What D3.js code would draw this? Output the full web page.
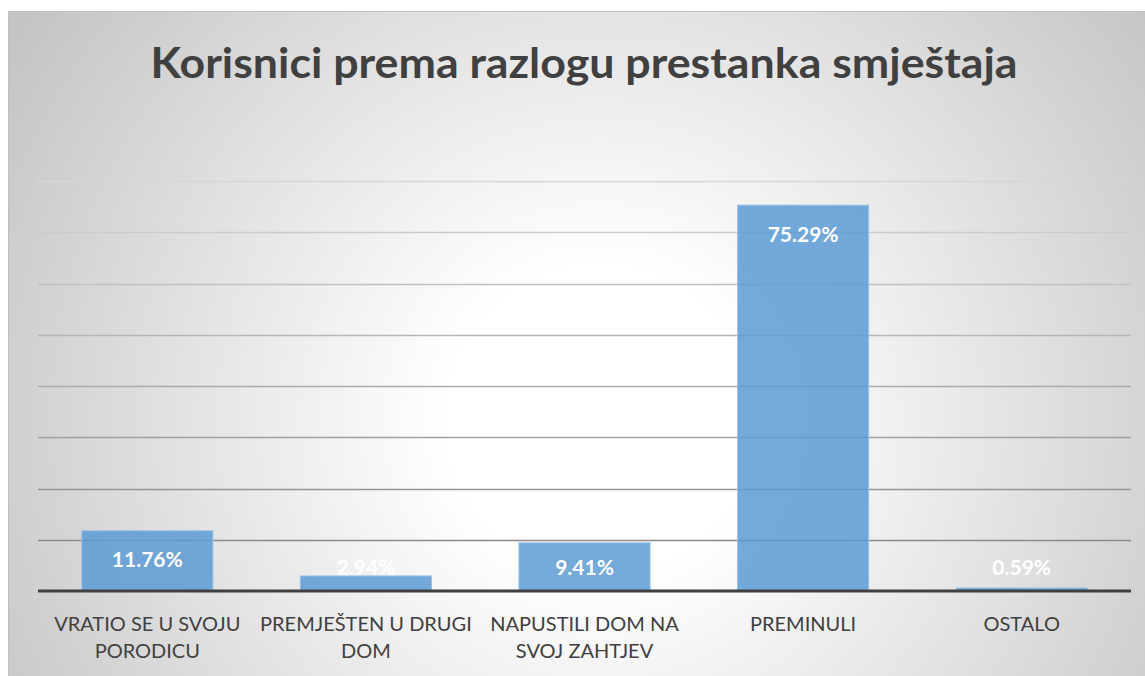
<!DOCTYPE html>
<html>
<head>
<meta charset="utf-8">
<script src="https://cdn.jsdelivr.net/npm/d3@7"></script>
<style>
  body { margin: 0; background: #fff; }
  svg { display: block; }
  text { font-family: Lato, "Open Sans", sans-serif; }
</style>
</head>
<body>
<script>
const title = 'Korisnici prema razlogu prestanka smještaja'
const categories = ['VRATIO SE U SVOJU PORODICU', 'PREMJEŠTEN U DRUGI DOM', 'NAPUSTILI DOM NA SVOJ ZAHTJEV', 'PREMINULI', 'OSTALO']
const values = [11.76, 2.94, 9.41, 75.29, 0.59]
const yTicks = [0, 10, 20, 30, 40, 50, 60, 70, 80]

const width = 1145
const height = 676
const plot = { left: 38, right: 1131, top: 181, bottom: 591 }

const svg = d3.select('body').append('svg')
  .attr('width', width)
  .attr('height', height)

const defs = svg.append('defs')

const bg = defs.append('radialGradient')
  .attr('id', 'bg')
  .attr('gradientUnits', 'userSpaceOnUse')
  .attr('cx', 600).attr('cy', 420).attr('r', 700)
bg.append('stop').attr('offset', '0%').attr('stop-color', '#ffffff')
bg.append('stop').attr('offset', '22%').attr('stop-color', '#ffffff')
bg.append('stop').attr('offset', '100%').attr('stop-color', '#c4c4c4')

// gridlines get darker towards the axis
const gridGrad = defs.append('linearGradient')
  .attr('id', 'grid')
  .attr('gradientUnits', 'userSpaceOnUse')
  .attr('x1', 0).attr('x2', 0)
  .attr('y1', plot.top).attr('y2', plot.bottom)
gridGrad.append('stop').attr('offset', '0%').attr('stop-color', '#d6d6d6')
gridGrad.append('stop').attr('offset', '100%').attr('stop-color', '#808080')

svg.append('rect')
  .attr('x', 8.5).attr('y', 11.5)
  .attr('width', width).attr('height', height)
  .style('fill', 'url(#bg)')
  .style('stroke', '#bfbfbf')

const x = d3.scaleBand()
  .domain(categories)
  .range([plot.left, plot.right])
  .paddingInner(0.4)
  .paddingOuter(0.2)

const y = d3.scaleLinear()
  .domain([0, 80])
  .range([plot.bottom, plot.top])

svg.append('text')
  .attr('x', 584)
  .attr('y', 78)
  .attr('text-anchor', 'middle')
  .attr('textLength', 867)
  .attr('lengthAdjust', 'spacingAndGlyphs')
  .style('font-size', '42px')
  .style('font-weight', 700)
  .style('fill', '#404040')
  .text(title)

const grid = svg.append('g')
grid.selectAll('line')
  .data(yTicks.filter(d => d > 0))
  .enter()
  .append('line')
  .attr('x1', plot.left)
  .attr('x2', plot.right)
  .attr('y1', d => Math.round(y(d)) + 0.5)
  .attr('y2', d => Math.round(y(d)) + 0.5)
  .style('stroke', 'url(#grid)')
  .style('stroke-width', 1.3)

svg.append('g').selectAll('rect')
  .data(values)
  .enter()
  .append('rect')
  .attr('x', (d, i) => x(categories[i]))
  .attr('y', d => y(d))
  .attr('width', x.bandwidth())
  .attr('height', d => y(0) - y(d))
  .style('fill', '#5b9bd5')
  .style('fill-opacity', 0.85)
  .style('stroke', '#9dc3e6')
  .style('stroke-width', 1)

svg.append('line')
  .attr('x1', plot.left)
  .attr('x2', plot.right)
  .attr('y1', plot.bottom)
  .attr('y2', plot.bottom)
  .style('stroke', '#404040')
  .style('stroke-width', 3)

// value labels, inside end, kept off the axis
svg.append('g').selectAll('text')
  .data(values)
  .enter()
  .append('text')
  .attr('x', (d, i) => x(categories[i]) + x.bandwidth() / 2)
  .attr('y', d => Math.min(y(d) + 28, 566))
  .attr('text-anchor', 'middle')
  .attr('dominant-baseline', 'central')
  .style('font-size', '21px')
  .style('font-weight', 700)
  .style('fill', '#ffffff')
  .text(d => d.toFixed(2) + '%')

const labels = svg.append('g').selectAll('text')
  .data(categories)
  .enter()
  .append('text')
  .attr('x', d => x(d) + x.bandwidth() / 2)
  .attr('y', 631)
  .attr('text-anchor', 'middle')
  .style('font-size', '20px')
  .style('fill', '#404040')

labels.each(function (d) {
  const el = d3.select(this)
  const words = d.split(' ')
  let line = []
  let tspan = el.append('tspan').attr('x', el.attr('x')).attr('dy', 0)
  words.forEach(w => {
    line.push(w)
    tspan.text(line.join(' '))
    if (tspan.node().getComputedTextLength() > x.step() && line.length > 1) {
      line.pop()
      tspan.text(line.join(' '))
      line = [w]
      tspan = el.append('tspan').attr('x', el.attr('x')).attr('dy', 27).text(w)
    }
  })
})
</script>
</body>
</html>
